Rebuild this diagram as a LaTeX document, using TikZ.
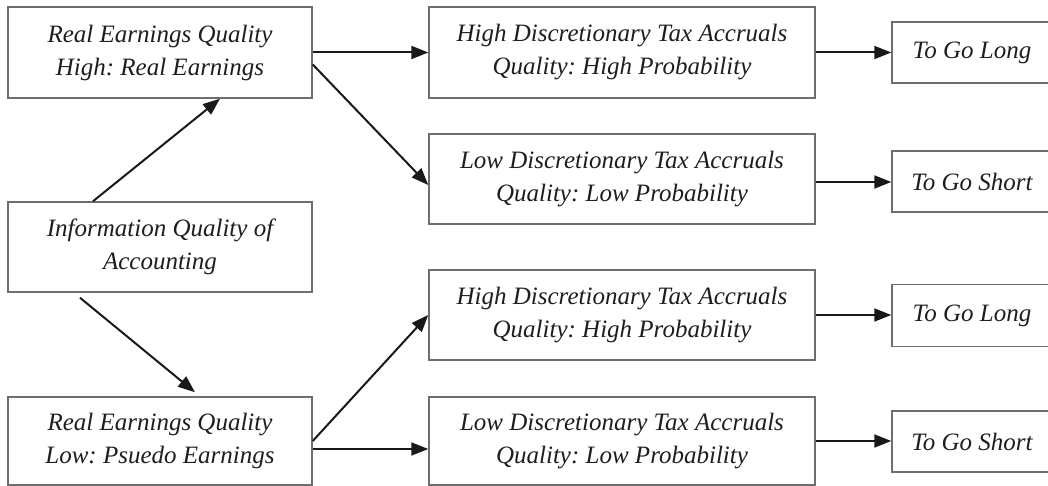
\documentclass[tikz,border=0pt]{standalone}
\usepackage{fontspec}
\setmainfont{Liberation Serif}
\usetikzlibrary{arrows.meta,calc}
\definecolor{boxline}{HTML}{6E6E6E}
\definecolor{txt}{HTML}{1E1E1E}
\frenchspacing
\tikzset{
  box/.style={draw=boxline, line width=1.5pt, fill=white, inner sep=0pt,
    align=center, text=txt, font=\fontsize{25}{33}\selectfont\itshape\frenchspacing},
  conn/.style={line width=2pt, draw=black!90, -{Triangle[length=17pt,width=13pt]}},
}
\begin{document}
\begin{tikzpicture}[x=1pt,y=-1pt]
\useasboundingbox[fill=white] (0,0) rectangle (1048,486);
% left column
\node[box, minimum width=304pt, minimum height=91pt] (A) at (160,52.5) {Real Earnings Quality\\High: Real Earnings};
\node[box, minimum width=304pt, minimum height=90pt] (I) at (160,247) {Information Quality of\\Accounting};
\node[box, minimum width=304pt, minimum height=88pt] (L) at (160,441) {Real Earnings Quality\\Low: Psuedo Earnings};
% middle column
\node[box, minimum width=386pt, minimum height=91pt] (M1) at (622,52.5) {High Discretionary Tax Accruals\\Quality: High Probability};
\node[box, minimum width=386pt, minimum height=90pt] (M2) at (622,179) {Low Discretionary Tax Accruals\\Quality: Low Probability};
\node[box, minimum width=386pt, minimum height=90pt] (M3) at (622,315) {High Discretionary Tax Accruals\\Quality: High Probability};
\node[box, minimum width=386pt, minimum height=88pt] (M4) at (622,441) {Low Discretionary Tax Accruals\\Quality: Low Probability};
% right column
\node[box, minimum width=160pt, minimum height=61pt] (R1) at (972,52.5) {To Go Long};
\node[box, minimum width=160pt, minimum height=61pt] (R2) at (972,181.5) {To Go Short};
\node[box, minimum width=160pt, minimum height=62pt] (R3) at (972,315.5) {To Go Long};
\node[box, minimum width=160pt, minimum height=61pt] (R4) at (972,441.5) {To Go Short};
% connectors
\draw[conn] ($(I.north)+(-67,0)$) -- ($(A.south)+(60,0)$);
\draw[conn] ($(I.south)+(-80,5)$) -- ($(L.north)+(35,-4)$);
\draw[conn] (A.east) -- (M1.west);
\draw[conn] ($(A.east)+(0,12)$) -- ($(M2.west)+(0,6)$);
\draw[conn] (L.east) -- (M3.west);
\draw[conn] ($(L.east)+(0,8)$) -- ($(M4.west)+(0,8)$);
\draw[conn] (M1.east) -- (M1.east -| R1.west);
\coordinate (m2o) at ($(M2.east)+(0,3)$);
\draw[conn] (m2o) -- (m2o -| R2.west);
\draw[conn] (M3.east) -- (M3.east -| R3.west);
\draw[conn] (M4.east) -- (M4.east -| R4.west);
\end{tikzpicture}
\end{document}
